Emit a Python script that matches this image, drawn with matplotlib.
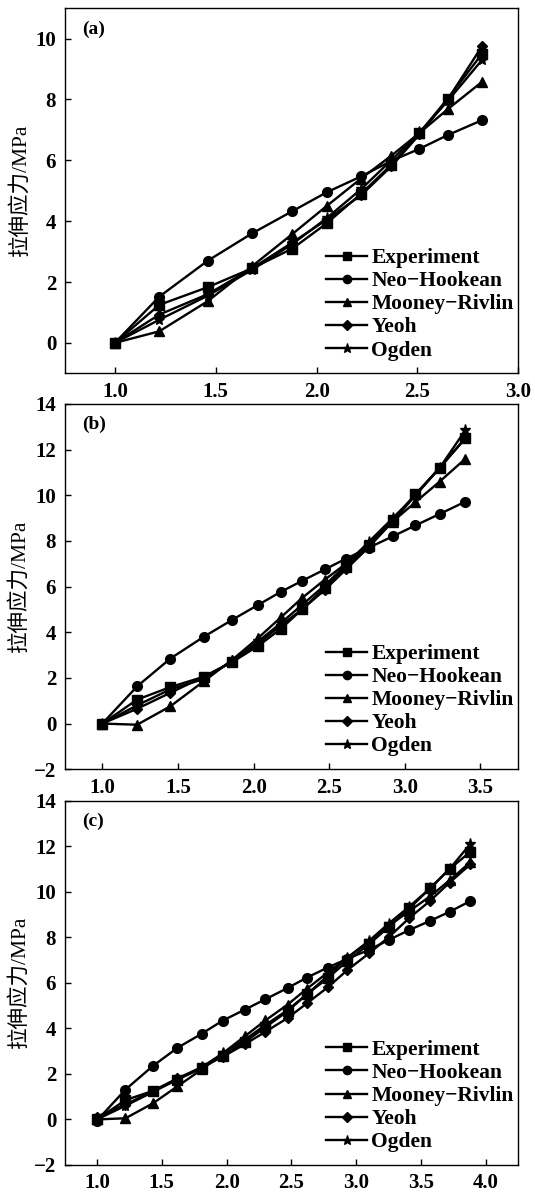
import matplotlib
matplotlib.use('Agg')
import matplotlib.pyplot as plt

plt.rcParams['font.family'] = ['Liberation Serif', 'Noto Sans CJK SC']
plt.rcParams['axes.unicode_minus'] = True

labels = ['Experiment', 'Neo\u2212Hookean', 'Mooney\u2212Rivlin', 'Yeoh', 'Ogden']
markers = ['s', 'o', '^', 'D', '*']
msizes = [6.5, 7, 7, 5.5, 8]

# (a)
xa = [1.0, 1.22, 1.46, 1.68, 1.88, 2.05, 2.22, 2.37, 2.51, 2.65, 2.82]
exp_a = [0, 1.25, 1.83, 2.45, 3.1, 3.93, 4.9, 5.85, 6.9, 8.03, 9.5]
neo_a = [0, 1.52, 2.7, 3.6, 4.33, 4.95, 5.47, 5.98, 6.38, 6.83, 7.32]
mr_a = [0, 0.38, 1.37, 2.52, 3.58, 4.5, 5.4, 6.15, 6.9, 7.68, 8.58]
yeoh_a = [0, 0.93, 1.6, 2.45, 3.3, 4.05, 4.85, 5.8, 6.85, 8.0, 9.75]
ogden_a = [0, 0.76, 1.55, 2.4, 3.25, 4.1, 5.05, 6.0, 6.92, 7.95, 9.3]

# (b)
xb = [1.0, 1.23, 1.45, 1.67, 1.86, 2.03, 2.18, 2.32, 2.47, 2.61, 2.76, 2.92, 3.07, 3.23, 3.40]
exp_b = [0, 1.05, 1.6, 2.05, 2.7, 3.4, 4.15, 5.0, 5.95, 6.85, 7.8, 8.9, 10.05, 11.2, 12.5]
neo_b = [0, 1.63, 2.85, 3.8, 4.55, 5.2, 5.77, 6.25, 6.75, 7.22, 7.7, 8.2, 8.68, 9.18, 9.72]
mr_b = [0, -0.05, 0.76, 1.85, 2.8, 3.75, 4.65, 5.5, 6.3, 7.0, 7.9, 8.85, 9.7, 10.6, 11.6]
yeoh_b = [0, 0.65, 1.35, 2.05, 2.7, 3.5, 4.3, 5.0, 5.85, 6.75, 7.72, 8.85, 10.0, 11.2, 12.5]
ogden_b = [0, 0.8, 1.5, 1.95, 2.75, 3.6, 4.4, 5.2, 6.05, 6.95, 7.95, 9.0, 10.0, 11.2, 12.85]

# (c)
xc = [1.0, 1.22, 1.43, 1.62, 1.81, 1.97, 2.14, 2.30, 2.47, 2.62, 2.78, 2.93, 3.10, 3.25, 3.41, 3.57, 3.72, 3.88]
exp_c = [0, 0.85, 1.25, 1.75, 2.25, 2.8, 3.4, 4.05, 4.75, 5.5, 6.2, 6.95, 7.7, 8.45, 9.27, 10.15, 11.0, 11.75]
neo_c = [-0.05, 1.31, 2.34, 3.14, 3.77, 4.34, 4.82, 5.28, 5.77, 6.23, 6.67, 7.05, 7.45, 7.88, 8.32, 8.72, 9.12, 9.59]
mr_c = [0, 0.05, 0.7, 1.45, 2.2, 2.9, 3.65, 4.35, 5.04, 5.74, 6.45, 7.1, 7.8, 8.5, 9.15, 9.8, 10.5, 11.3]
yeoh_c = [0.12, 0.65, 1.25, 1.8, 2.3, 2.75, 3.3, 3.85, 4.45, 5.1, 5.8, 6.55, 7.3, 8.0, 8.85, 9.6, 10.4, 11.2]
ogden_c = [0, 0.6, 1.2, 1.75, 2.3, 2.9, 3.5, 4.15, 4.8, 5.5, 6.3, 7.1, 7.85, 8.6, 9.35, 10.15, 11.0, 12.1]

xticks_a = [1.0, 1.5, 2.0, 2.5, 3.0]
xticks_b = [1.0, 1.5, 2.0, 2.5, 3.0, 3.5]
xticks_c = [1.0, 1.5, 2.0, 2.5, 3.0, 3.5, 4.0]
yticks_a = [0, 2, 4, 6, 8, 10]
yticks_bc = [-2, 0, 2, 4, 6, 8, 10, 12, 14]

paneles = [
    ('(a)', xa, [exp_a, neo_a, mr_a, yeoh_a, ogden_a], (0.75, 3.0), (-1, 11), xticks_a, yticks_a),
    ('(b)', xb, [exp_b, neo_b, mr_b, yeoh_b, ogden_b], (0.75, 3.75), (-2, 14), xticks_b, yticks_bc),
    ('(c)', xc, [exp_c, neo_c, mr_c, yeoh_c, ogden_c], (0.75, 4.25), (-2, 14), xticks_c, yticks_bc),
]
# posiciones de los ejes (left, bottom, width, height) en fraccion de figura
cajas = [
    (0.1206, 0.6871, 0.8482, 0.3060),
    (0.1206, 0.3552, 0.8482, 0.3062),
    (0.1206, 0.0235, 0.8482, 0.3054),
]

fig = plt.figure(figsize=(5.35, 11.93), dpi=100)

for (tag, x, series, xl, yl, xt, yt), caja in zip(paneles, cajas):
    ax = fig.add_axes(caja)
    for y, lab, m, ms in zip(series, labels, markers, msizes):
        ax.plot(x, y, color='black', lw=1.7, marker=m, markersize=ms, label=lab)
    ax.set_xlim(*xl)
    ax.set_ylim(*yl)
    ax.set_xticks(xt)
    ax.set_yticks(yt)
    ax.set_xticklabels([f'{v:.1f}' for v in xt])
    ax.set_yticklabels([f'{v:d}'.replace('-', '\u2212') for v in yt])
    ax.tick_params(direction='in', length=4, width=1, pad=6, labelsize=15)
    for lbl in ax.get_xticklabels() + ax.get_yticklabels():
        lbl.set_fontweight('bold')
    for sp in ax.spines.values():
        sp.set_linewidth(1.0)
    ax.text(0.039, 0.943, tag, transform=ax.transAxes, fontsize=14,
            fontweight='bold', va='center', ha='left')
    ax.set_ylabel('拉伸应力/MPa', fontsize=15.5, labelpad=3)
    ax.legend(loc='lower right', bbox_to_anchor=(0.99, 0.035), frameon=False,
              prop={'weight': 'bold', 'size': 15.5}, handlelength=1.9,
              handletextpad=0.2, labelspacing=0.14, borderaxespad=0.0,
              borderpad=0.0, markerscale=0.85)

fig.savefig('out.png', dpi=100)
